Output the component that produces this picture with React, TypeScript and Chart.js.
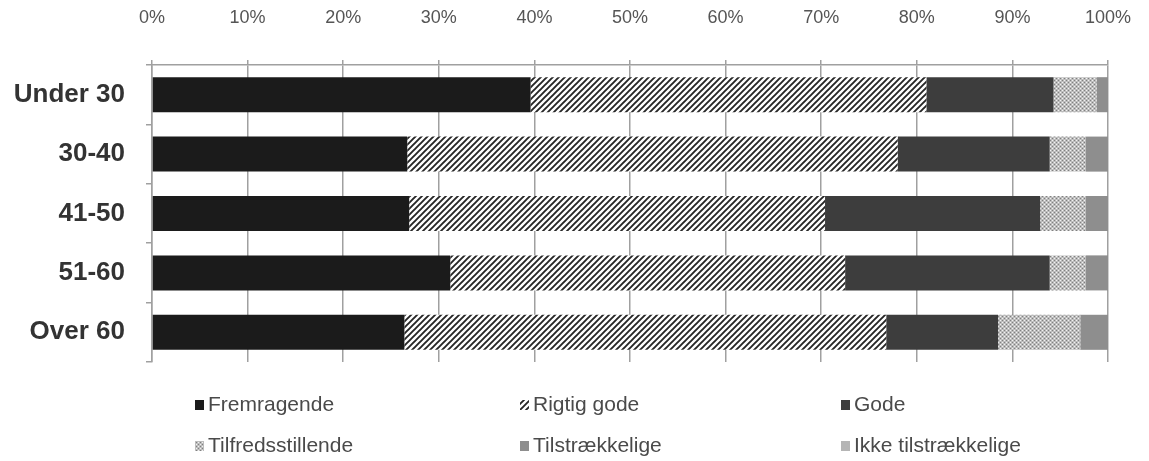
import { useEffect, useRef } from 'react';
import { Chart, registerables } from 'chart.js';

Chart.register(...registerables);

const CATEGORIES = ['Under 30', '30-40', '41-50', '51-60', 'Over 60'];
const SERIES_LABELS = ['Fremragende', 'Rigtig gode', 'Gode', 'Tilfredsstillende', 'Tilstrækkelige', 'Ikke tilstrækkelige'];
const FREMRAGENDE = [39.6, 26.7, 26.9, 31.2, 26.4];
const RIGTIG_GODE = [41.4, 51.3, 43.5, 41.3, 50.4];
const GODE = [13.3, 15.9, 22.5, 21.4, 11.7];
const TILFREDSSTILLENDE = [4.5, 3.8, 4.8, 3.8, 8.6];
const TILSTRAEKKELIGE = [1.2, 2.3, 2.3, 2.3, 2.9];
const IKKE_TILSTRAEKKELIGE = [0, 0, 0, 0, 0];
const X_TICKS = [0, 10, 20, 30, 40, 50, 60, 70, 80, 90, 100];

const FONT = '"Liberation Sans", Arial, sans-serif';

function makeHatch(): CanvasPattern | string {
  const c = document.createElement('canvas');
  c.width = 6; c.height = 6;
  const g = c.getContext('2d');
  if (!g) return '#777';
  g.fillStyle = '#ffffff';
  g.fillRect(0, 0, 6, 6);
  g.strokeStyle = '#262626';
  g.lineWidth = 1.9;
  g.beginPath();
  g.moveTo(-1, 7); g.lineTo(7, -1);
  g.moveTo(-4, 4); g.lineTo(4, -4);
  g.moveTo(2, 10); g.lineTo(10, 2);
  g.stroke();
  return g.createPattern(c, 'repeat') || '#777';
}

function makeDots(): CanvasPattern | string {
  const c = document.createElement('canvas');
  c.width = 4; c.height = 4;
  const g = c.getContext('2d');
  if (!g) return '#bbb';
  g.fillStyle = '#bdbdbd';
  g.fillRect(0, 0, 4, 4);
  g.fillStyle = '#f2f2f2';
  g.fillRect(0, 0, 1, 1);
  g.fillRect(2, 2, 1, 1);
  g.fillStyle = '#808080';
  g.fillRect(2, 0, 1, 1);
  g.fillRect(0, 2, 1, 1);
  return g.createPattern(c, 'repeat') || '#bbb';
}

const legendPlugin = {
  id: 'gridLegend',
  afterDraw(chart: any) {
    const ctx = chart.ctx as CanvasRenderingContext2D;
    const cols = [195, 520, 841];
    const rows = [405, 446];
    chart.data.datasets.forEach((ds: any, i: number) => {
      const x = cols[i % 3];
      const y = rows[Math.floor(i / 3)];
      ctx.save();
      ctx.fillStyle = ds.backgroundColor;
      ctx.fillRect(x, y - 5, 9, 10);
      ctx.fillStyle = '#4a4a4a';
      ctx.font = '21px ' + FONT;
      ctx.textBaseline = 'middle';
      ctx.textAlign = 'left';
      ctx.fillText(ds.label, x + 13, y);
      ctx.restore();
    });
  },
};

export default function App() {
  const ref = useRef<HTMLCanvasElement | null>(null);

  useEffect(() => {
    if (!ref.current) return;
    const hatch = makeHatch();
    const dots = makeDots();
    const values = [FREMRAGENDE, RIGTIG_GODE, GODE, TILFREDSSTILLENDE, TILSTRAEKKELIGE, IKKE_TILSTRAEKKELIGE];
    const colors: any[] = ['#1b1b1b', hatch, '#3d3d3d', dots, '#8e8e8e', '#b5b5b5'];
    const chart = new Chart(ref.current, {
      type: 'bar',
      data: {
        labels: CATEGORIES,
        datasets: values.map((v, i) => ({
          label: SERIES_LABELS[i],
          data: v,
          backgroundColor: colors[i],
          borderWidth: 0,
          barPercentage: 0.59,
          categoryPercentage: 1,
        })),
      },
      options: {
        indexAxis: 'y',
        animation: false,
        responsive: true,
        maintainAspectRatio: false,
        layout: { padding: { left: 0, right: 41, top: 0, bottom: 99 } },
        plugins: {
          legend: { display: false },
          tooltip: { enabled: false },
        },
        scales: {
          x: {
            position: 'top',
            stacked: true,
            min: 0,
            max: 100,
            afterBuildTicks: (s: any) => { s.ticks = X_TICKS.map((v) => ({ value: v })); },
            afterFit: (s: any) => { s.height = 65; s.paddingRight = 0; s.paddingLeft = 0; },
            ticks: {
              callback: (v: any) => v + '%',
              color: '#555',
              font: { family: FONT, size: 18 },
              padding: 31,
              maxRotation: 0,
            },
            grid: {
              color: '#a0a0a0',
              lineWidth: 1.5,
              tickLength: 5,
              drawTicks: true,
            },
            border: { display: true, color: '#a0a0a0', width: 1.5 },
          },
          y: {
            stacked: true,
            afterFit: (s: any) => { s.width = 152; },
            ticks: {
              color: '#333',
              font: { family: FONT, size: 26, weight: 'bold' },
              padding: 21,
            },
            grid: {
              offset: true,
              drawTicks: true,
              tickLength: 6,
              tickColor: '#a0a0a0',
              lineWidth: 1.5,
              color: (c: any) => (c.index === CATEGORIES.length ? '#a0a0a0' : 'rgba(0,0,0,0)'),
            },
            border: { display: true, color: '#a0a0a0', width: 1.5 },
          },
        },
      } as any,
      plugins: [legendPlugin],
    });
    return () => chart.destroy();
  }, []);

  return (
    <div style={{ position: 'fixed', left: 0, top: 0, width: '1149px', height: '461px', background: '#fff' }}>
      <canvas ref={ref} />
    </div>
  );
}
